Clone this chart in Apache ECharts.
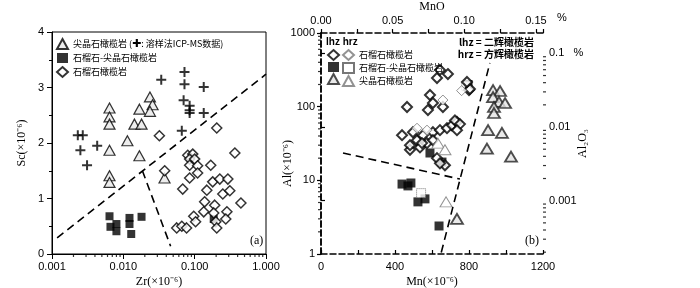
<!DOCTYPE html>
<html>
<head>
<meta charset="utf-8">
<script src="https://cdn.jsdelivr.net/npm/echarts@6/dist/echarts.min.js"></script>
<style>
html, body { margin: 0; padding: 0; background: #fff; }
#chart { width: 700px; height: 288px; }
</style>
</head>
<body>
<div id="chart"></div>
<script>
// ---- (a) Zr - Sc ----
var spinelA = [[0.0064, 2.63], [0.0064, 2.47], [0.0064, 2.34], [0.0064, 1.87], [0.0064, 1.41], [0.0064, 1.29],
  [0.0114, 2.04], [0.0143, 2.34], [0.0180, 2.34], [0.0168, 2.61], [0.0236, 2.83], [0.0257, 2.69], [0.0236, 2.57],
  [0.0168, 1.77], [0.0378, 1.37]];
var icpmsA = [[0.0023, 2.14], [0.0027, 2.14], [0.0025, 1.87], [0.0043, 1.95], [0.0031, 1.60], [0.034, 3.14],
  [0.072, 3.28], [0.072, 3.06], [0.134, 3.01], [0.070, 2.77], [0.085, 2.67], [0.085, 2.59], [0.085, 2.54],
  [0.134, 2.54], [0.066, 2.22]];
var grtSpA = [[0.0064, 0.68], [0.0066, 0.49], [0.0080, 0.54], [0.0080, 0.41], [0.0122, 0.65], [0.0122, 0.54],
  [0.0129, 0.36], [0.0180, 0.67], [0.185, 0.63]];
var garnetA = [[0.032, 2.13], [0.204, 2.27], [0.038, 1.50], [0.080, 1.78], [0.094, 1.80], [0.085, 1.71],
  [0.100, 1.71], [0.085, 1.60], [0.110, 1.59], [0.168, 1.60], [0.110, 1.46], [0.085, 1.37], [0.366, 1.82],
  [0.068, 1.17], [0.179, 1.30], [0.225, 1.35], [0.292, 1.35], [0.148, 1.15], [0.248, 1.08], [0.311, 1.14],
  [0.445, 0.92], [0.138, 0.94], [0.191, 0.88], [0.134, 0.76], [0.097, 0.68], [0.103, 0.58], [0.185, 0.74],
  [0.283, 0.76], [0.273, 0.63], [0.198, 0.58], [0.204, 0.47], [0.056, 0.47], [0.066, 0.50], [0.077, 0.47]];
var lineA1 = [[0.00118, 0.29], [1.0, 3.24]];
var lineA2 = [[0.0185, 1.50], [0.046, 0.14]];

// ---- (b) Mn - Al ----
var lhzGarnet = [[627, 245], [686, 277], [643, 315], [800, 168], [805, 174], [789, 216], [465, 99], [589, 144],
  [605, 112], [578, 90], [659, 99], [438, 41], [497, 45], [519, 35], [551, 41], [605, 45], [643, 48], [681, 51],
  [708, 56], [735, 62], [724, 65], [751, 58], [735, 48], [535, 28], [481, 26], [573, 32], [605, 35], [481, 30],
  [546, 32], [627, 20], [670, 16], [643, 17]];
var hrzGarnet = [[519, 51], [573, 48], [659, 123], [760, 165]];
var lhzGrtSp = [[438, 8.9], [470, 8.4], [486, 9.2], [524, 5.1], [562, 5.6], [638, 2.4], [589, 23.5], [654, 17.7], [795, 200]];
var hrzGrtSp = [[541, 6.7], [785, 190]];
var lhzSpinel = [[930, 168], [968, 163], [930, 135], [962, 116], [995, 112], [935, 99], [935, 82], [903, 48],
  [978, 44], [897, 27], [1027, 21], [735, 3.0]];
var hrzSpinel = [[632, 32], [670, 26], [676, 5.1]];
var lineB1 = [[119, 23.5], [751, 10.4]];
var lineB2 = [[650, 1.05], [913, 392]];

// axes
var MINOR_STEPS = [2, 3, 4, 5, 6, 7, 8, 9];
var zrDecades = [0.001, 0.01, 0.1];
var alDecades = [1, 10, 100];
var al2o3Decades = [0.0001, 0.001, 0.01];
var MN_MAX = 1200;
var MN_TO_MNO = 1.2912e-4;   // ppm Mn -> % MnO
var AL_TO_AL2O3 = 1.8895e-4; // ppm Al -> % Al2O3

function minorTicks(decades, lo, hi) {
  var out = [];
  decades.forEach(function (d) {
    MINOR_STEPS.forEach(function (s) {
      var v = s * d;
      if (v > lo && v < hi) out.push(v);
    });
  });
  return out;
}

var chart = echarts.init(document.getElementById('chart'));

var sans = 'Liberation Sans';
var serif = 'Liberation Serif';
var cjk = 'Noto Sans CJK SC';
var dashB = { color: '#000', width: 1.5, type: [6, 3] };
var tickLabel = { fontFamily: sans, fontSize: 11, color: '#000' };
var nameFont = { fontFamily: serif, fontSize: 12, color: '#000' };
var legendText = { fontFamily: cjk, fontSize: 9, color: '#000' };

var al2o3Min = 1 * AL_TO_AL2O3;
var al2o3Max = 1000 * AL_TO_AL2O3;

var option = {
  backgroundColor: '#fff',
  animation: false,
  grid: [
    { left: 52, top: 32, width: 214, height: 222, show: true, borderColor: '#000', borderWidth: 1, outerBoundsMode: 'none' },
    { left: 321, top: 33, width: 222, height: 221, outerBoundsMode: 'none' }
  ],
  legend: [
    {
      data: ['尖晶石橄榄岩', '石榴石-尖晶石橄榄岩', '石榴石橄榄岩'],
      left: 51, top: 33, orient: 'vertical', itemGap: 3, itemWidth: 11, itemHeight: 10,
      selectedMode: false,
      textStyle: Object.assign({
        rich: { p: { fontFamily: 'DejaVu Sans', fontSize: 11, fontWeight: 'bold', color: '#000' } } }, legendText),
      formatter: function (name) {
        return name === '尖晶石橄榄岩' ? name + ' ({p|✚}: 溶样法ICP-MS数据)' : name;
      }
    },
    {
      data: ['lhz-石榴石橄榄岩', 'lhz-石榴石-尖晶石橄榄岩', 'lhz-尖晶石橄榄岩'],
      left: 322, top: 44, orient: 'vertical', itemGap: 1, itemWidth: 11, itemHeight: 10,
      selectedMode: false, textStyle: legendText,
      formatter: function () { return ' '; }
    },
    {
      data: ['hrz-石榴石橄榄岩', 'hrz-石榴石-尖晶石橄榄岩', 'hrz-尖晶石橄榄岩'],
      left: 337, top: 44, orient: 'vertical', itemGap: 1, itemWidth: 11, itemHeight: 10,
      selectedMode: false, textStyle: legendText,
      formatter: function (name) { return name.slice(4); }
    }
  ],
  xAxis: [
    {
      type: 'log', gridIndex: 0, min: 0.001, max: 1, position: 'bottom',
      axisLine: { lineStyle: { color: '#000', width: 1 } },
      axisTick: { length: 5, lineStyle: { color: '#000' } },
      axisLabel: Object.assign({ margin: 7, formatter: function (v) { return v.toFixed(3); } }, tickLabel),
      splitLine: { show: false },
      name: 'Zr(×10⁻⁶)', nameLocation: 'middle', nameGap: 22, nameMoveOverlap: false,
      nameTextStyle: nameFont
    },
    {
      type: 'value', gridIndex: 1, min: 0, max: MN_MAX, interval: 400, position: 'bottom',
      axisLine: { lineStyle: dashB },
      axisTick: { length: 4, inside: true, lineStyle: { color: '#000', width: 1.2 } },
      minorTick: { show: true, splitNumber: 2, length: 4, lineStyle: { color: '#000', width: 1.2 } },
      axisLabel: Object.assign({ margin: 7, formatter: function (v) { return String(v); } }, tickLabel),
      splitLine: { show: false },
      name: 'Mn(×10⁻⁶)', nameLocation: 'middle', nameGap: 22, nameMoveOverlap: false,
      nameTextStyle: nameFont
    },
    {
      type: 'value', gridIndex: 1, min: 0, max: MN_MAX * MN_TO_MNO, interval: 0.05, position: 'top',
      axisLine: { lineStyle: dashB },
      axisTick: { length: 4, lineStyle: { color: '#000', width: 1.2 } },
      minorTick: { show: true, splitNumber: 2, length: 4, lineStyle: { color: '#000', width: 1.2 } },
      axisLabel: Object.assign({ margin: 7, showMaxLabel: false, formatter: function (v) { return v.toFixed(2); } }, tickLabel),
      splitLine: { show: false },
      name: 'MnO', nameLocation: 'middle', nameGap: 20, nameMoveOverlap: false,
      nameTextStyle: nameFont
    }
  ],
  yAxis: [
    {
      type: 'value', gridIndex: 0, min: 0, max: 4, interval: 1,
      axisLine: { lineStyle: { color: '#000', width: 1 } },
      axisTick: { length: 5, lineStyle: { color: '#000' } },
      minorTick: { show: true, splitNumber: 2, length: 3, lineStyle: { color: '#000' } },
      axisLabel: Object.assign({ margin: 8 }, tickLabel),
      splitLine: { show: false },
      name: 'Sc(×10⁻⁶)', nameLocation: 'middle', nameGap: 24, nameMoveOverlap: false,
      nameTextStyle: nameFont
    },
    {
      type: 'log', gridIndex: 1, min: 1, max: 1000, position: 'left',
      axisLine: { lineStyle: dashB },
      axisTick: { length: 4, lineStyle: { color: '#000', width: 1.2 } },
      axisLabel: Object.assign({ margin: 6, formatter: function (v) { return String(v); } }, tickLabel),
      splitLine: { show: false },
      name: 'Al(×10⁻⁶)', nameLocation: 'middle', nameGap: 27, nameMoveOverlap: false,
      nameTextStyle: Object.assign({ padding: [0, 0, 0, -40] }, nameFont)
    },
    {
      type: 'log', gridIndex: 1, min: al2o3Min, max: al2o3Max, position: 'right',
      axisLine: { lineStyle: dashB },
      axisTick: { length: 4, lineStyle: { color: '#000', width: 1.2 } },
      axisLabel: Object.assign({
        margin: 6, showMinLabel: false, showMaxLabel: false,
        formatter: function (v) {
          if (Math.abs(v - 0.1) < 1e-9) return '0.1   %';
          if (Math.abs(v - 0.01) < 1e-10) return '0.01';
          if (Math.abs(v - 0.001) < 1e-11) return '0.001';
          return '';
        }
      }, tickLabel),
      splitLine: { show: false },
      name: 'Al₂O₃', nameLocation: 'middle', nameGap: 34, nameRotate: 90, nameMoveOverlap: false,
      nameTextStyle: nameFont
    }
  ],
  graphic: [
    { type: 'text', left: 250, top: 235, style: { text: '(a)', font: '12px "Liberation Serif"', fill: '#000' } },
    { type: 'text', left: 525, top: 235, style: { text: '(b)', font: '12px "Liberation Serif"', fill: '#000' } },
    { type: 'text', left: 326, top: 37, style: { text: 'lhz hrz', font: 'bold 10px "Liberation Sans"', fill: '#000' } },
    { type: 'text', right: 166, top: 37, style: { text: 'lhz = 二辉橄榄岩', font: 'bold 10px "Noto Sans CJK SC"', fill: '#000' } },
    { type: 'text', right: 166, top: 49, style: { text: 'hrz = 方辉橄榄岩', font: 'bold 10px "Noto Sans CJK SC"', fill: '#000' } },
    { type: 'text', left: 557, top: 12, style: { text: '%', font: '11px "Liberation Sans"', fill: '#000' } }
  ],
  series: [
    // minor log ticks
    { type: 'scatter', xAxisIndex: 0, yAxisIndex: 0, silent: true, clip: false, z: 5,
      data: minorTicks(zrDecades, 0.001, 1).map(function (v) { return [v, 0]; }),
      symbol: 'rect', symbolSize: [1.2, 3], symbolOffset: [0, 1.5], itemStyle: { color: '#000' } },
    { type: 'scatter', xAxisIndex: 1, yAxisIndex: 1, silent: true, clip: false, z: 5,
      data: minorTicks(alDecades, 1, 1000).map(function (v) { return [0, v]; }),
      symbol: 'rect', symbolSize: [3, 1.2], symbolOffset: [-1.5, 0], itemStyle: { color: '#000' } },
    { type: 'scatter', xAxisIndex: 1, yAxisIndex: 2, silent: true, clip: false, z: 5,
      data: minorTicks(al2o3Decades, al2o3Min, al2o3Max).map(function (v) { return [MN_MAX, v]; }),
      symbol: 'rect', symbolSize: [3, 1.2], symbolOffset: [1.5, 0], itemStyle: { color: '#000' } },

    // (a)
    { type: 'line', xAxisIndex: 0, yAxisIndex: 0, data: lineA1, symbol: 'none', silent: true,
      lineStyle: { color: '#000', width: 1.6, type: [8, 5] } },
    { type: 'line', xAxisIndex: 0, yAxisIndex: 0, data: lineA2, symbol: 'none', silent: true,
      lineStyle: { color: '#000', width: 1.6, type: [8, 5] } },
    { name: '尖晶石橄榄岩', type: 'scatter', xAxisIndex: 0, yAxisIndex: 0, data: spinelA,
      symbol: 'triangle', symbolSize: [11, 10],
      itemStyle: { color: '#e8e8e8', borderColor: '#000', borderWidth: 1.2 } },
    { name: 'ICP-MS', type: 'scatter', xAxisIndex: 0, yAxisIndex: 0, data: icpmsA,
      symbol: 'path://M4,0H6V4H10V6H6V10H4V6H0V4H4Z', symbolSize: 10,
      itemStyle: { color: '#000' } },
    { name: '石榴石-尖晶石橄榄岩', type: 'scatter', xAxisIndex: 0, yAxisIndex: 0, data: grtSpA,
      symbol: 'rect', symbolSize: 8, itemStyle: { color: '#000' } },
    { name: '石榴石橄榄岩', type: 'scatter', xAxisIndex: 0, yAxisIndex: 0, data: garnetA,
      symbol: 'diamond', symbolSize: 10,
      itemStyle: { color: '#fff', borderColor: '#000', borderWidth: 1.5 } },

    // (b)
    { type: 'line', xAxisIndex: 1, yAxisIndex: 1, data: lineB1, symbol: 'none', silent: true,
      lineStyle: { color: '#000', width: 1.6, type: [8, 5] } },
    { type: 'line', xAxisIndex: 1, yAxisIndex: 1, data: lineB2, symbol: 'none', silent: true,
      lineStyle: { color: '#000', width: 1.6, type: [8, 5] } },
    { name: 'lhz-石榴石-尖晶石橄榄岩', type: 'scatter', xAxisIndex: 1, yAxisIndex: 1, data: lhzGrtSp,
      symbol: 'rect', symbolSize: 9, itemStyle: { color: '#000' } },
    { name: 'hrz-石榴石-尖晶石橄榄岩', type: 'scatter', xAxisIndex: 1, yAxisIndex: 1, data: hrzGrtSp,
      symbol: 'rect', symbolSize: 9,
      itemStyle: { color: '#fff', borderColor: '#555', borderWidth: 1, borderType: 'dotted' } },
    { name: 'lhz-石榴石橄榄岩', type: 'scatter', xAxisIndex: 1, yAxisIndex: 1, data: lhzGarnet,
      symbol: 'diamond', symbolSize: 10,
      itemStyle: { color: '#fff', borderColor: '#000', borderWidth: 2 } },
    { name: 'hrz-石榴石橄榄岩', type: 'scatter', xAxisIndex: 1, yAxisIndex: 1, data: hrzGarnet,
      symbol: 'diamond', symbolSize: 10,
      itemStyle: { color: '#fff', borderColor: '#777', borderWidth: 1 } },
    { name: 'lhz-尖晶石橄榄岩', type: 'scatter', xAxisIndex: 1, yAxisIndex: 1, data: lhzSpinel,
      symbol: 'triangle', symbolSize: [12, 10],
      itemStyle: { color: '#e4e4e4', borderColor: '#222', borderWidth: 1.8 } },
    { name: 'hrz-尖晶石橄榄岩', type: 'scatter', xAxisIndex: 1, yAxisIndex: 1, data: hrzSpinel,
      symbol: 'triangle', symbolSize: [12, 10],
      itemStyle: { color: '#fff', borderColor: '#777', borderWidth: 1 } }
  ]
};

chart.setOption(option);
</script>
</body>
</html>
